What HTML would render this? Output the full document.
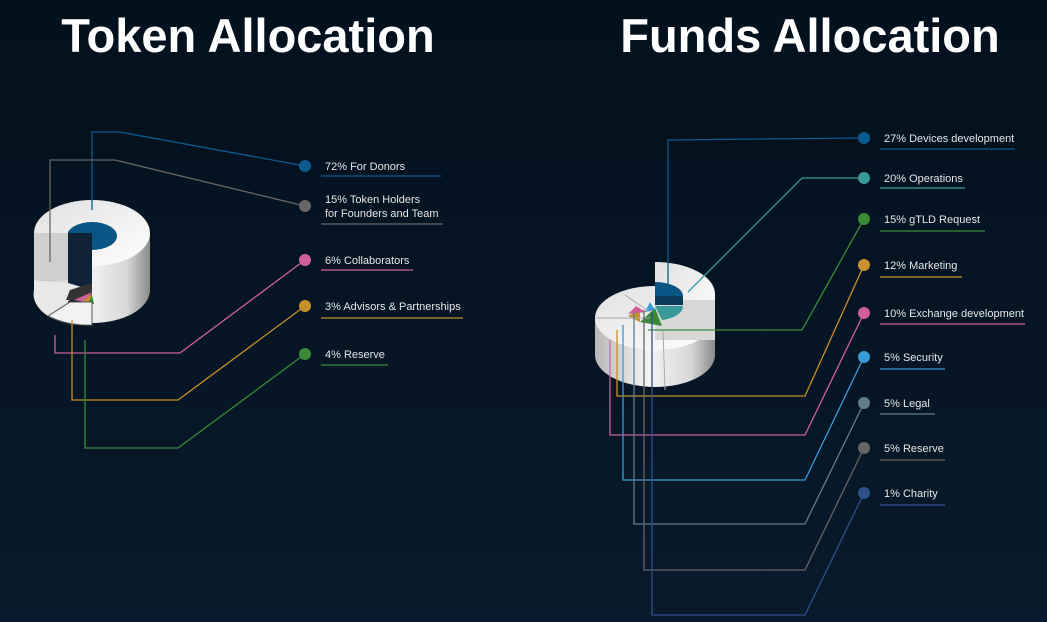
<!DOCTYPE html>
<html><head><meta charset="utf-8"><style>
html,body{margin:0;padding:0;width:1047px;height:622px;overflow:hidden;background:#04121f;}
svg{display:block}
text{font-family:"Liberation Sans",sans-serif;fill:#e6e6e6;font-size:11px}
.t{font-weight:bold;font-size:47px;fill:#fff}
</style></head><body>
<svg width="1047" height="622" viewBox="0 0 1047 622">
<defs>
<linearGradient id="bg" x1="0" y1="0" x2="0" y2="1"><stop offset="0" stop-color="#03101d"/><stop offset="1" stop-color="#081a2b"/></linearGradient>
<linearGradient id="side" x1="0" y1="0" x2="1" y2="0"><stop offset="0" stop-color="#b8b8b8"/><stop offset="0.45" stop-color="#f4f4f4"/><stop offset="0.8" stop-color="#d8d8d8"/><stop offset="1" stop-color="#8a8a8a"/></linearGradient>
<linearGradient id="top" x1="0" y1="0" x2="1" y2="1"><stop offset="0" stop-color="#e0e0e0"/><stop offset="1" stop-color="#ffffff"/></linearGradient>
</defs>
<rect width="1047" height="622" fill="url(#bg)"/>
<text class="t" x="248" y="52" text-anchor="middle">Token Allocation</text>
<text class="t" x="810" y="52" text-anchor="middle">Funds Allocation</text>

<!-- Left chart -->
<g>
<path d="M34 233 L34 290 A58 33 0 0 0 150 290 L150 233 Z" fill="url(#side)"/>
<ellipse cx="92" cy="233" rx="58" ry="33" fill="url(#top)"/>
<ellipse cx="92" cy="236" rx="25" ry="14" fill="#0b5585"/>
<rect x="68" y="233" width="24" height="92" fill="#0f2238"/>
<path d="M34 233 L68 233 L68 280 L34 280 Z" fill="#cfcfcf"/>
<path d="M34 280 L68 283 L92 290 L70 300 L48 316 A58 33 0 0 1 34 290 Z" fill="#e8e8e8"/>
<path d="M70 290 L92 283 L92 300 L66 300 Z" fill="#333"/>
<path d="M74 300 L92 292 L86 302 Z" fill="#d0609a"/>
<path d="M82 302 L92 294 L90 304 Z" fill="#c8902a"/>
<path d="M88 304 L92 295 L94 304 Z" fill="#3a8a3a"/>
<path d="M48 316 L70 302 L92 302 L92 325 A58 33 0 0 1 48 316Z" fill="#f2f2f2" stroke="#555" stroke-width="1"/>
</g>
<g fill="none" stroke-width="1.3">
<polyline points="92,210 92,132 120,132 305,166" stroke="#0b5a8f"/>
<polyline points="50,262 50,160 115,160 305,206" stroke="#666"/>
<polyline points="55,335 55,353 180,353 305,260" stroke="#d0609a"/>
<polyline points="72,320 72,400 178,400 305,306" stroke="#c8902a"/>
<polyline points="85,340 85,448 178,448 305,354" stroke="#3a8a3a"/>
<line x1="321" y1="176" x2="441" y2="176" stroke="#0b5a8f"/>
<line x1="321" y1="224" x2="443" y2="224" stroke="#666"/>
<line x1="321" y1="270" x2="413" y2="270" stroke="#d0609a"/>
<line x1="321" y1="318" x2="463" y2="318" stroke="#c8902a"/>
<line x1="321" y1="365" x2="388" y2="365" stroke="#3a8a3a"/>
</g>
<circle cx="305" cy="166" r="6" fill="#0b5a8f"/>
<circle cx="305" cy="206" r="6" fill="#666"/>
<circle cx="305" cy="260" r="6" fill="#d0609a"/>
<circle cx="305" cy="306" r="6" fill="#c8902a"/>
<circle cx="305" cy="354" r="6" fill="#3a8a3a"/>
<text x="325" y="170">72% For Donors</text>
<text x="325" y="203">15% Token Holders</text>
<text x="325" y="217">for Founders and Team</text>
<text x="325" y="264">6% Collaborators</text>
<text x="325" y="310">3% Advisors &amp; Partnerships</text>
<text x="325" y="358">4% Reserve</text>

<!-- Right chart -->
<g>
<path d="M595 318 L595 355 A60 32 0 0 0 715 355 L715 318 Z" fill="url(#side)"/>
<ellipse cx="655" cy="318" rx="60" ry="32" fill="url(#top)"/>
<path d="M655 262 A60 32 0 0 1 715 294 L715 330 L655 330 Z" fill="url(#top)"/>
<path d="M655 300 L715 300 L715 340 L655 340 Z" fill="#d8d8d8"/>
<path d="M655 282 A28 14 0 0 1 683 296 L655 296 Z" fill="#0b5585"/>
<path d="M655 296 L683 296 L683 305 L655 305 Z" fill="#0e3a5a"/>
<path d="M655 306 L683 306 A28 14 0 0 1 662 320 Z" fill="#3a9a9a"/>
<path d="M655 308 L662 326 L640 322 Z" fill="#3a8a3a"/>
<path d="M640 322 L628 316 L640 310 Z" fill="#c8902a"/>
<path d="M628 314 L636 306 L646 312 Z" fill="#d0609a"/>
<path d="M645 312 L650 302 L655 310 Z" fill="#3a9ad8"/>
<line x1="596" y1="318" x2="650" y2="318" stroke="#aaa" stroke-width="1"/>
<line x1="625" y1="295" x2="650" y2="312" stroke="#aaa" stroke-width="1"/>
<line x1="663" y1="330" x2="665" y2="390" stroke="#aaa" stroke-width="1"/>
</g>
<g fill="none" stroke-width="1.3">
<polyline points="668,285 668,140 858,138" stroke="#0b5a8f"/>
<polyline points="688,292 802,178 858,178" stroke="#3a9a9a"/>
<polyline points="648,330 802,330 864,219" stroke="#3a8a3a"/>
<polyline points="617,330 617,396 805,396 864,265" stroke="#c8902a"/>
<polyline points="610,340 610,435 805,435 864,313" stroke="#d0609a"/>
<polyline points="623,325 623,480 805,480 864,357" stroke="#3a9ad8"/>
<polyline points="634,312 634,524 805,524 864,403" stroke="#5f7f8a"/>
<polyline points="644,310 644,570 805,570 864,448" stroke="#666"/>
<polyline points="652,312 652,615 805,615 864,493" stroke="#2f4f8a"/>
<line x1="880" y1="149" x2="1015" y2="149" stroke="#0b5a8f"/>
<line x1="880" y1="188" x2="965" y2="188" stroke="#3a9a9a"/>
<line x1="880" y1="231" x2="985" y2="231" stroke="#3a8a3a"/>
<line x1="880" y1="277" x2="962" y2="277" stroke="#c8902a"/>
<line x1="880" y1="324" x2="1025" y2="324" stroke="#d0609a"/>
<line x1="880" y1="369" x2="945" y2="369" stroke="#3a9ad8"/>
<line x1="880" y1="414" x2="935" y2="414" stroke="#5f7f8a"/>
<line x1="880" y1="460" x2="945" y2="460" stroke="#666"/>
<line x1="880" y1="505" x2="945" y2="505" stroke="#2f4f8a"/>
</g>
<circle cx="864" cy="138" r="6" fill="#0b5a8f"/>
<circle cx="864" cy="178" r="6" fill="#3a9a9a"/>
<circle cx="864" cy="219" r="6" fill="#3a8a3a"/>
<circle cx="864" cy="265" r="6" fill="#c8902a"/>
<circle cx="864" cy="313" r="6" fill="#d0609a"/>
<circle cx="864" cy="357" r="6" fill="#3a9ad8"/>
<circle cx="864" cy="403" r="6" fill="#5f7f8a"/>
<circle cx="864" cy="448" r="6" fill="#666"/>
<circle cx="864" cy="493" r="6" fill="#2f4f8a"/>
<text x="884" y="142">27% Devices development</text>
<text x="884" y="182">20% Operations</text>
<text x="884" y="223">15% gTLD Request</text>
<text x="884" y="269">12% Marketing</text>
<text x="884" y="317">10% Exchange development</text>
<text x="884" y="361">5% Security</text>
<text x="884" y="407">5% Legal</text>
<text x="884" y="452">5% Reserve</text>
<text x="884" y="497">1% Charity</text>
</svg>
</body></html>
